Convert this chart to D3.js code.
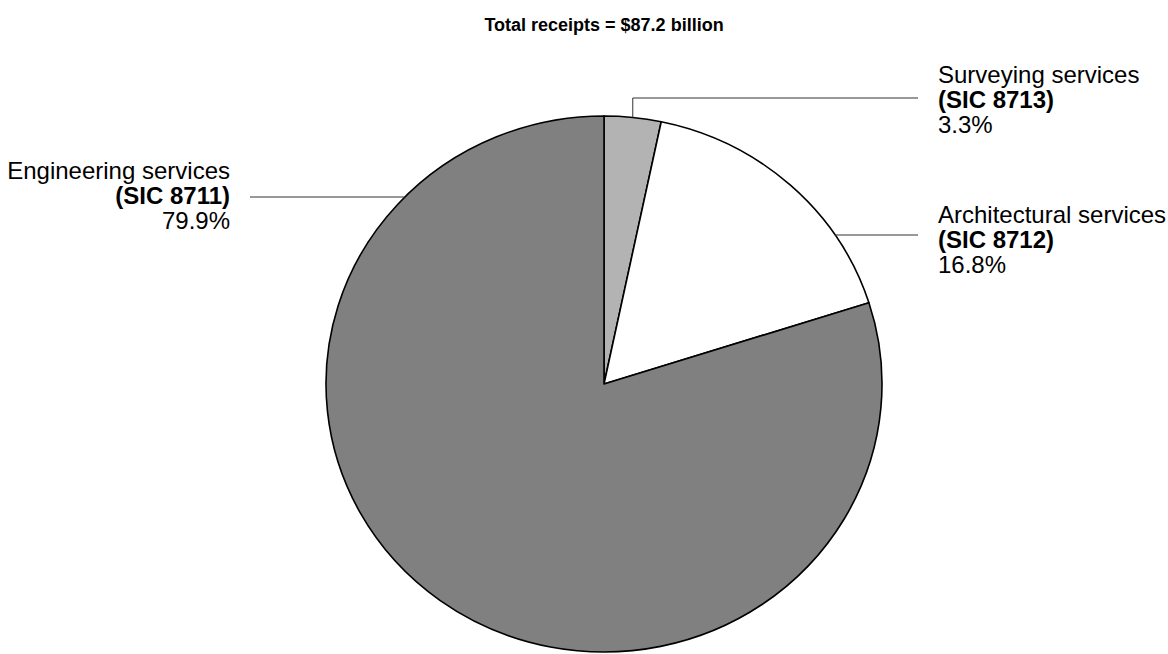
<!DOCTYPE html>
<html><head><meta charset="utf-8">
<script src="https://cdn.jsdelivr.net/npm/d3@7"></script>
<style>
html,body{margin:0;padding:0;background:#fff;}
svg{display:block;font-family:"Liberation Sans",Arial,Helvetica,sans-serif;}
</style></head>
<body>
<svg id="chart" width="1168" height="654"></svg>
<script>
const title = "Total receipts = $87.2 billion";
const categories = ["Surveying services", "Architectural services", "Engineering services"];
const sicCodes = ["(SIC 8713)", "(SIC 8712)", "(SIC 8711)"];
const shares = [3.3, 16.8, 79.9];
const colors = ["#b3b3b3", "#ffffff", "#808080"];

const W = 1168, H = 654;
const cx = 604, cy = 384, rx = 278, ry = 268;
const svg = d3.select("#chart");

svg.append("text").attr("x", cx).attr("y", 31).attr("text-anchor", "middle")
  .attr("font-size", 18).attr("font-weight", "bold").attr("fill", "#000").text(title);

const pie = d3.pie().sort(null).value(d => d)(shares);
const arc = d3.arc().innerRadius(0).outerRadius(rx);

const g = svg.append("g").attr("transform", `translate(${cx},${cy}) scale(1,${ry/rx})`);
g.selectAll("path").data(pie).join("path")
  .attr("d", arc)
  .attr("fill", (d,i) => colors[i])
  .attr("stroke", "#000")
  .attr("stroke-width", 1.6)
  .attr("stroke-linejoin", "round")
  .attr("vector-effect", "non-scaling-stroke");

const layout = [
  {x: 938, y: 83, anchor: "start", ly: 98, lx: 918, mode: "elbow"},
  {x: 938, y: 223, anchor: "start", ly: 235, lx: 918, mode: "flat"},
  {x: 230, y: 179, anchor: "end", ly: 197, lx: 250, mode: "flat"}
];
const lineH = 25;

pie.forEach((d, i) => {
  const L = layout[i];
  const lines = svg.append("g");
  if (L.mode === "elbow") {
    const a = (d.startAngle + d.endAngle) / 2;
    const px = cx + rx * Math.sin(a), py = cy - ry * Math.cos(a);
    lines.append("polyline").attr("points", `${px},${py} ${px},${L.ly} ${L.lx},${L.ly}`)
      .attr("fill", "none").attr("stroke", "#333").attr("stroke-width", 1);
  } else {
    const dy = (cy - L.ly) / ry;
    const dx = rx * Math.sqrt(1 - dy*dy);
    const px = L.anchor === "start" ? cx + dx : cx - dx;
    lines.append("line").attr("x1", px).attr("y1", L.ly).attr("x2", L.lx).attr("y2", L.ly)
      .attr("stroke", "#333").attr("stroke-width", 1);
  }
  const t = svg.append("text").attr("text-anchor", L.anchor).attr("font-size", 24).attr("fill", "#000");
  t.append("tspan").attr("x", L.x).attr("y", L.y).text(categories[i]);
  t.append("tspan").attr("x", L.x).attr("y", L.y + lineH).attr("font-weight", "bold").text(sicCodes[i]);
  t.append("tspan").attr("x", L.x).attr("y", L.y + 2*lineH).text(d3.format(".1f")(shares[i]) + "%");
});
</script>
</body></html>
